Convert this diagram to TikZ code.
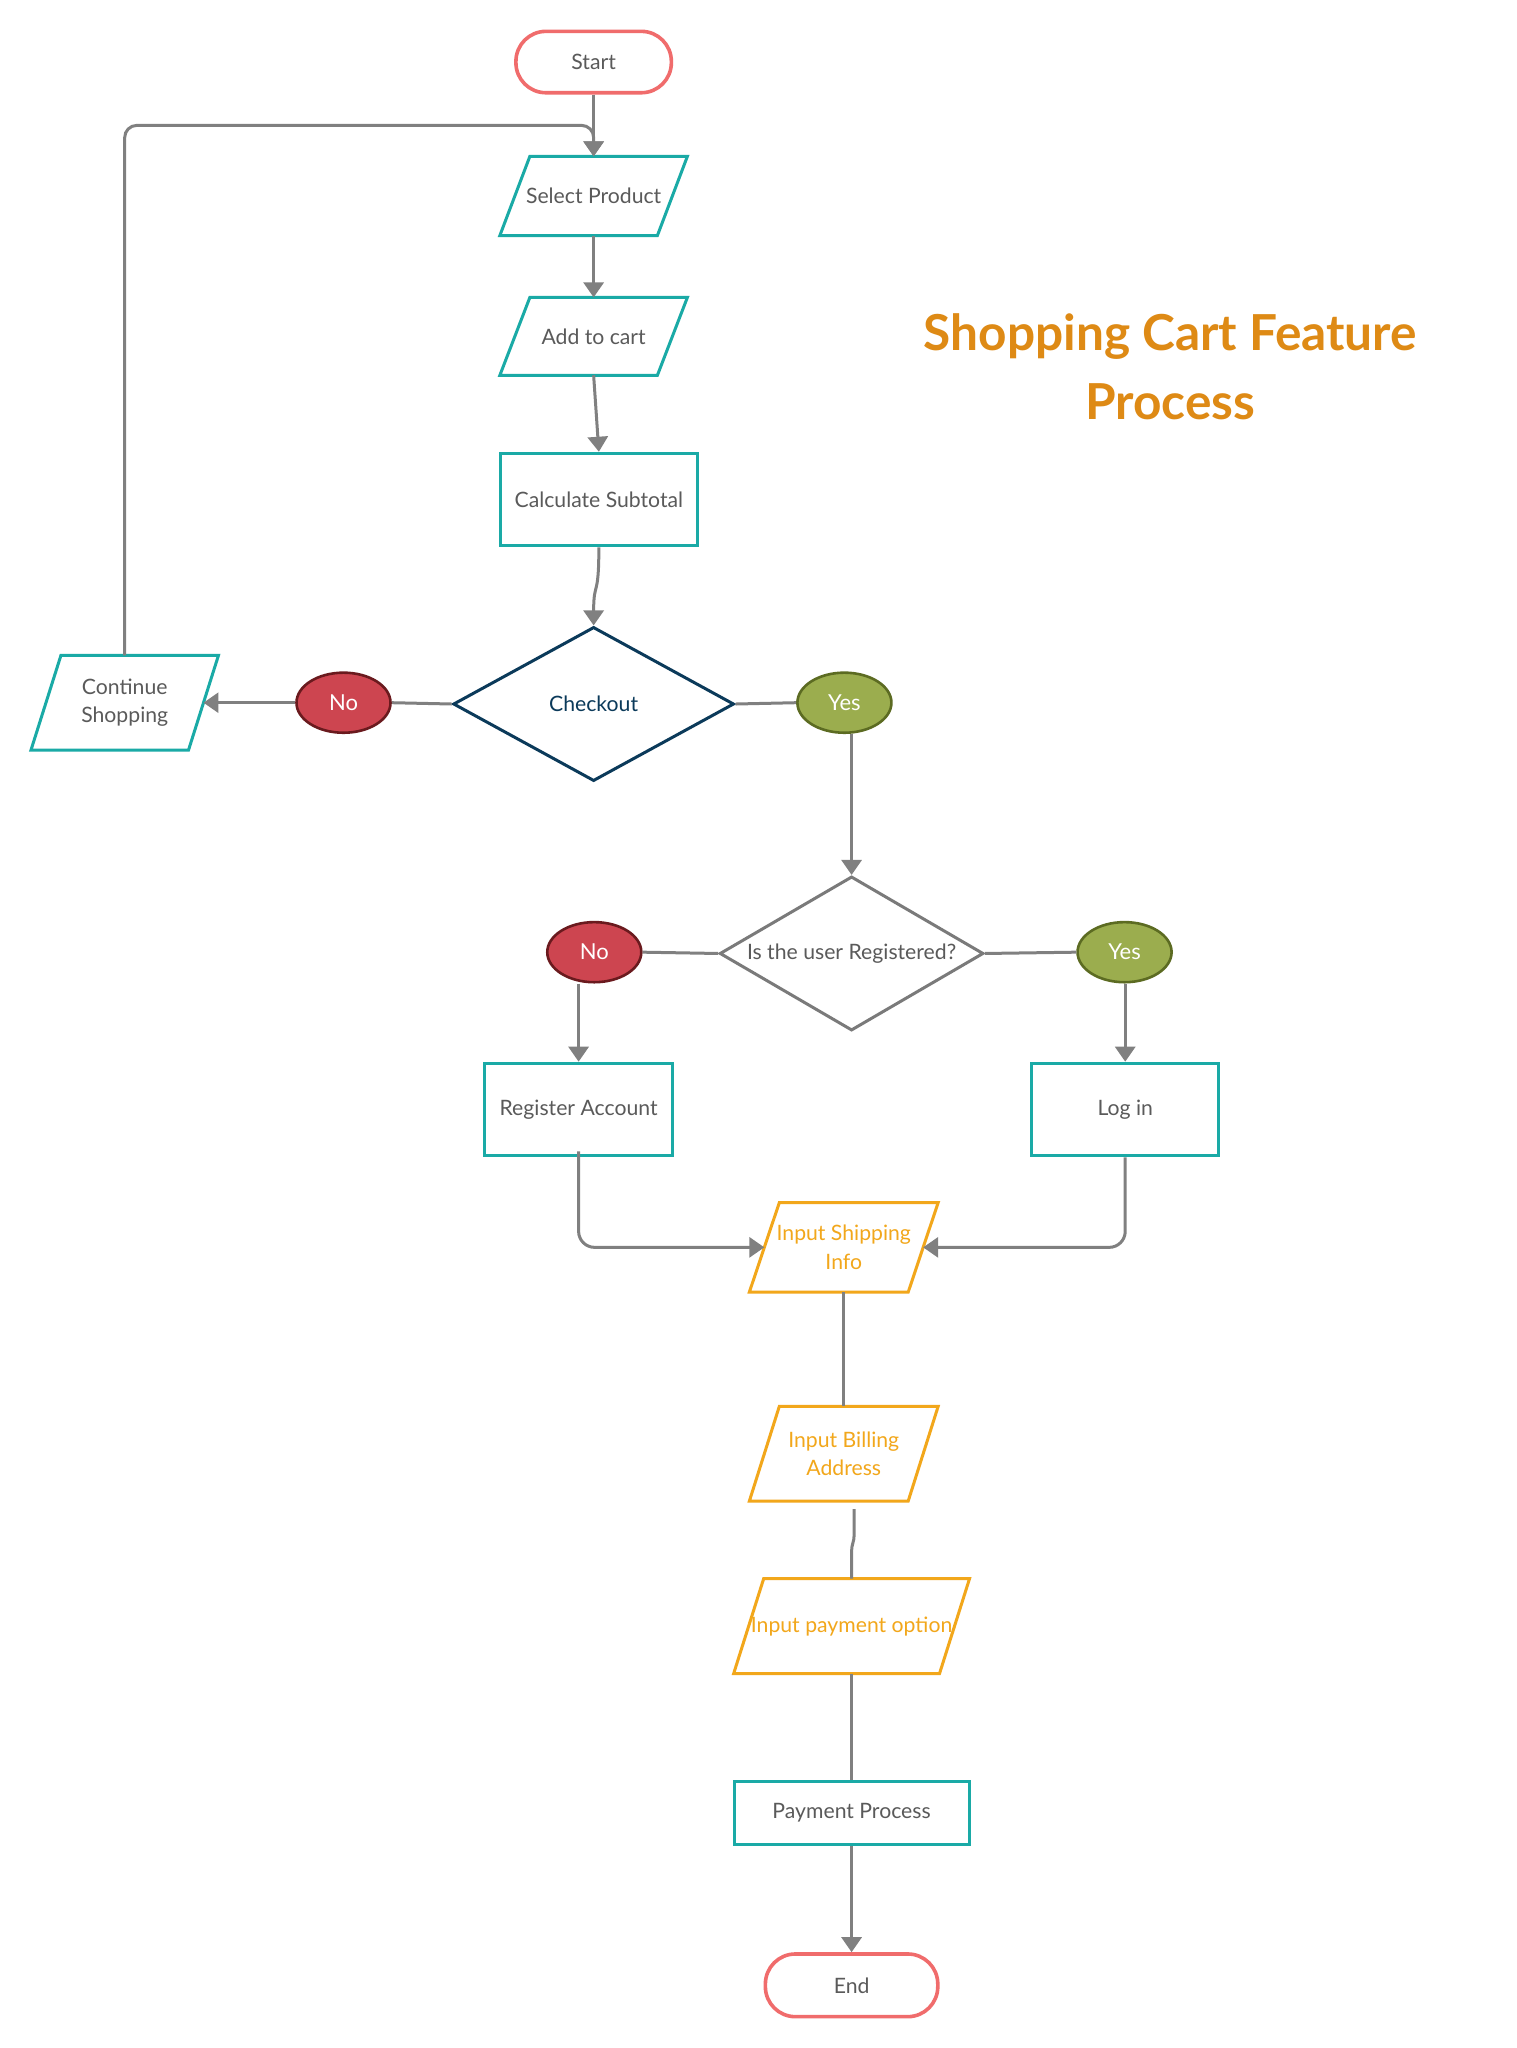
\documentclass[tikz,border=0pt]{standalone}
\usepackage{fontspec}
\setmainfont{Lato}
\usetikzlibrary{shapes.geometric,arrows.meta}
\definecolor{linec}{HTML}{808080}
\definecolor{textc}{HTML}{5A5A5A}
\definecolor{tealc}{HTML}{1AAAA6}
\definecolor{termc}{HTML}{F06C6C}
\definecolor{navyc}{HTML}{0B3A5A}
\definecolor{ambc}{HTML}{F2A71B}
\definecolor{titlec}{HTML}{DE8A15}
\definecolor{redfill}{HTML}{CD4550}
\definecolor{redline}{HTML}{6A1A1E}
\definecolor{grnfill}{HTML}{9BAD4E}
\definecolor{grnline}{HTML}{5C6B22}
\definecolor{dgray}{HTML}{7A7A7A}
\def\u{0.6533pt}
\newcommand\drawpara[3]{\draw[#2, line width=1.5pt, line join=miter] ([xshift=#3]#1.north west) -- ([xshift=#3]#1.north east) -- ([xshift=-#3]#1.south east) -- ([xshift=-#3]#1.south west) -- cycle;}
\tikzset{
  lbl/.style={font=\fontsize{10.6}{14.4}\selectfont, text=textc},
  conn/.style={draw=linec, line width=1.5pt, -{Triangle[width=10pt,length=7.5pt]}},
  plain/.style={draw=linec, line width=1.5pt},
  term/.style={lbl, draw=termc, line width=1.8pt, rounded corners=15pt, inner sep=0pt},
  box/.style={lbl, draw=tealc, line width=1.5pt, inner sep=0pt},
  paranode/.style={lbl, inner sep=0pt, align=center},
  diam/.style={diamond, lbl, line width=1.5pt, inner sep=0pt},
  pill/.style={ellipse, font=\fontsize{11}{13.5}\selectfont, text=white, line width=1.3pt, inner sep=0pt, minimum width=72*\u, minimum height=46*\u},
  nopill/.style={pill, fill=redfill, draw=redline},
  yespill/.style={pill, fill=grnfill, draw=grnline},
}
\begin{document}
\begin{tikzpicture}[x=0.6533pt, y=-0.6533pt]
\fill[white] (0,0) rectangle (1161,1568);
\useasboundingbox (0,0) rectangle (1161,1568);

% title
\node[font=\bfseries\fontsize{24.8}{34.6}\selectfont, text=titlec, align=center] (title) at (896,281) {Shopping Cart Feature\\Process};

% terminals
\node[term, minimum width=119*\u, minimum height=47*\u] (start) at (454.5,47.5) {Start};
\node[term, minimum width=132*\u, minimum height=48*\u] (end) at (652,1520) {End};

% parallelograms
\node[paranode, minimum width=120*\u, minimum height=60*\u] (sel) at (454.5,150) {Select Product};
\drawpara{sel}{tealc}{7.5pt}
\node[paranode, minimum width=120*\u, minimum height=59*\u] (add) at (454.5,257.5) {Add to cart};
\drawpara{add}{tealc}{7.5pt}
\node[paranode, minimum width=120*\u, minimum height=72*\u] (cont) at (95.5,538) {Continue\\Shopping};
\drawpara{cont}{tealc}{7.5pt}
\node[paranode, text=ambc, minimum width=121*\u, minimum height=68*\u] (ship) at (646,955) {Input Shipping\\Info};
\drawpara{ship}{ambc}{7.5pt}
\node[paranode, text=ambc, minimum width=121*\u, minimum height=72*\u] (bill) at (646,1113) {Input Billing\\Address};
\drawpara{bill}{ambc}{7.5pt}
\node[paranode, text=ambc, minimum width=157*\u, minimum height=72*\u] (pay) at (652,1245) {Input payment option};
\drawpara{pay}{ambc}{7.5pt}

% rectangles
\node[box, minimum width=151*\u, minimum height=71*\u] (calc) at (458.5,382.5) {Calculate Subtotal};
\node[box, minimum width=144*\u, minimum height=71*\u] (reg) at (443,849.5) {Register Account};
\node[box, minimum width=143*\u, minimum height=71*\u] (login) at (861.5,849.5) {Log in};
\node[box, minimum width=180*\u, minimum height=48*\u] (proc) at (652,1388) {Payment Process};

% diamonds
\node[diam, draw=navyc, text=navyc, minimum width=215*\u, minimum height=118*\u] (chk) at (454.5,539) {\makebox[0pt]{Checkout}};
\node[diam, draw=dgray, minimum width=202*\u, minimum height=118*\u] (d2) at (652,730) {\makebox[0pt]{Is the user Registered?}};

% decision labels
\node[nopill] (no1) at (263,538) {No};
\node[yespill] (yes1) at (646.5,538) {Yes};
\node[nopill] (no2) at (455,729) {No};
\node[yespill] (yes2) at (861,729) {Yes};

% connectors
\coordinate (lp) at (0,96);
\draw[conn] (start.south) -- (sel.north);
\draw[conn, rounded corners=6pt] (cont.north) -- (cont.north |- lp) -- (sel.north |- lp) -- (sel.north);
\draw[conn] (sel.south) -- (add.north);
\draw[conn] (add.south) -- (calc.north);
\draw[conn] (calc.south) .. controls +(0,40) and +(0,-35) .. (chk.north);
\draw[plain] (chk.west) -- (no1.east);
\draw[conn] (no1.west) -- (cont.east);
\draw[plain] (chk.east) -- (yes1.west);
\draw[conn] (yes1.south -| d2.north) -- (d2.north);
\draw[plain] (d2.west) -- (no2.east);
\draw[plain] (d2.east) -- (yes2.west);
\draw[conn] (no2.south -| reg.north) -- (reg.north);
\draw[conn] (yes2.south -| login.north) -- (login.north);
\draw[conn, rounded corners=8pt] ([yshift=3pt]reg.south) -- (reg.south |- ship.west) -- (ship.west);
\draw[conn, rounded corners=8pt] (login.south) -- (login.south |- ship.east) -- (ship.east);
\draw[plain] (ship.south) -- (bill.north);
\draw[plain] ([xshift=5.2pt,yshift=-4pt]bill.south) -- ++(0,17) .. controls +(0,12) and +(0,-12) .. ([yshift=12pt]pay.north) -- (pay.north);
\draw[plain] (pay.south) -- (proc.north);
\draw[conn] (proc.south) -- (end.north);
\end{tikzpicture}
\end{document}
